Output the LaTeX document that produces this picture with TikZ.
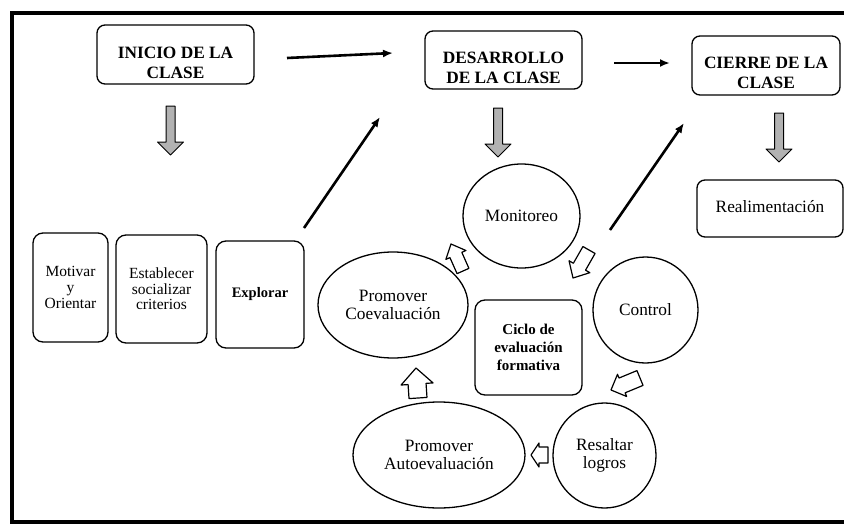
\documentclass[tikz,border=0pt]{standalone}
\usepackage{fontspec}
\setmainfont{Liberation Serif}
\usetikzlibrary{calc,arrows.meta,shapes.geometric}
\newcommand\blockarr[6]{% style, tail, tip, half shaft, half head, head length
  \path ($(#3)!#6!(#2)$) coordinate (bab);
  \draw[#1] ($(#2)!#4!90:(#3)$) -- ($(bab)!#4!90:(#3)$) -- ($(bab)!#5!90:(#3)$)
    -- (#3) -- ($(bab)!#5!-90:(#3)$) -- ($(bab)!#4!-90:(#3)$) -- ($(#2)!#4!-90:(#3)$) -- cycle;}
\tikzset{
  hbox/.style={draw, line width=1.3pt, rounded corners=8pt, inner sep=0pt},
  htext/.style={align=center, inner sep=0pt, font=\fontsize{17.3}{20}\selectfont\bfseries},
  sbox/.style={draw, line width=1.3pt, rounded corners=10pt, inner sep=0pt, align=center},
  cyc/.style={draw, line width=1.3pt, ellipse, inner sep=0pt, align=center,
    font=\fontsize{17.3}{18.5}\selectfont},
  blackarr/.style={line width=2.6pt, -{Latex[length=10pt,width=8pt]}},
  greyarr/.style={draw=black, line width=1pt, fill=black!30, line join=round},
  whitearr/.style={draw=black, line width=1.2pt, fill=white, line join=round},
}
\begin{document}
\begin{tikzpicture}[x=1pt,y=-1pt]
\useasboundingbox (0,0) rectangle (844,525);
\fill[white] (0,0) rectangle (844,525);
\draw[line width=3.5pt] (844,13) -- (12,13) -- (12,522) -- (844,522);

% top row
\node[hbox, minimum width=157pt, minimum height=59pt] (inicio) at (175.5,54.5) {};
\node[htext] (iniciot) at ($(inicio)+(0,8)$) {INICIO DE LA\\CLASE};
\node[hbox, minimum width=157pt, minimum height=58pt] (desarrollo) at (503.5,60) {};
\node[htext] (desarrollot) at ($(desarrollo)+(0,8)$) {DESARROLLO\\DE LA CLASE};
\node[hbox, minimum width=148pt, minimum height=59pt] (cierre) at (766,65.5) {};
\node[htext] (cierret) at ($(cierre)+(0,7)$) {CIERRE DE LA\\CLASE};
\node[hbox, minimum width=146pt, minimum height=57pt, font=\fontsize{17.3}{20}\selectfont] (realim) at (770,208.5) {\raisebox{4pt}{Realimentación}};

% left boxes
\node[sbox, minimum width=75pt, minimum height=109pt, font=\fontsize{15.5}{16}\selectfont] (motivar) at (70.5,287.5) {Motivar\\y\\Orientar};
\node[sbox, minimum width=91pt, minimum height=108pt, font=\fontsize{15.5}{15.5}\selectfont] (establecer) at (161.5,289) {Establecer\\socializar\\criterios};
\node[sbox, minimum width=88pt, minimum height=107pt, font=\fontsize{14.5}{16}\selectfont\bfseries] (explorar) at (260,294.5) {Explorar};

% cycle
\node[cyc, minimum width=117pt, minimum height=104pt] (monitoreo) at (521.5,216) {Monitoreo};
\node[cyc, minimum width=105pt, minimum height=106pt] (control) at (645.5,310) {Control};
\node[cyc, minimum width=103pt, minimum height=105pt] (resaltar) at (604.5,455.5) {Resaltar\\logros};
\node[cyc, minimum width=172pt, minimum height=106pt] (autoev) at (439,455) {Promover\\Autoevaluación};
\node[cyc, minimum width=150pt, minimum height=106pt] (coev) at (393,305) {Promover\\Coevaluación};
\node[sbox, minimum width=107pt, minimum height=95pt, font=\fontsize{15}{18}\selectfont\bfseries] (ciclo) at (528.5,347.5) {Ciclo de\\evaluación\\formativa};

% black arrows
\coordinate (a1s) at (287,58);
\coordinate (a1e) at (393,53);
\coordinate (a2s) at (614,63);
\coordinate (a2e) at (670,63);
\coordinate (a3s) at (304,228);
\coordinate (a3e) at (380,117);
\coordinate (a4s) at (610,230);
\coordinate (a4e) at (684,123);
\draw[blackarr] (a1s) -- (a1e);
\draw[blackarr] (a2s) -- (a2e);
\draw[blackarr] (a3s) -- (a3e);
\draw[blackarr] (a4s) -- (a4e);

% grey down arrows
\coordinate (g1s) at (170.5,106); \coordinate (g1e) at (170.5,155);
\coordinate (g2s) at (498,108);   \coordinate (g2e) at (498,157);
\coordinate (g3s) at (779,113);   \coordinate (g3e) at (779,162);
\blockarr{greyarr}{g1s}{g1e}{4.5pt}{13pt}{13pt}
\blockarr{greyarr}{g2s}{g2e}{4.5pt}{13pt}{13pt}
\blockarr{greyarr}{g3s}{g3e}{4.5pt}{13pt}{13pt}

% white cycle arrows
\coordinate (w1s) at (463,271); \coordinate (w1e) at (451,244);
\coordinate (w2s) at (589,250); \coordinate (w2e) at (573,278);
\coordinate (w3s) at (640,378); \coordinate (w3e) at (611,390);
\coordinate (w4s) at (548,455); \coordinate (w4e) at (531,455);
\coordinate (w5s) at (418,398); \coordinate (w5e) at (416,368);
\blockarr{whitearr}{w1s}{w1e}{6.5pt}{11pt}{12pt}
\blockarr{whitearr}{w2s}{w2e}{7pt}{12pt}{13pt}
\blockarr{whitearr}{w3s}{w3e}{8pt}{12pt}{12pt}
\blockarr{whitearr}{w4s}{w4e}{8pt}{12pt}{8pt}
\blockarr{whitearr}{w5s}{w5e}{9pt}{16pt}{16pt}
\end{tikzpicture}
\end{document}
